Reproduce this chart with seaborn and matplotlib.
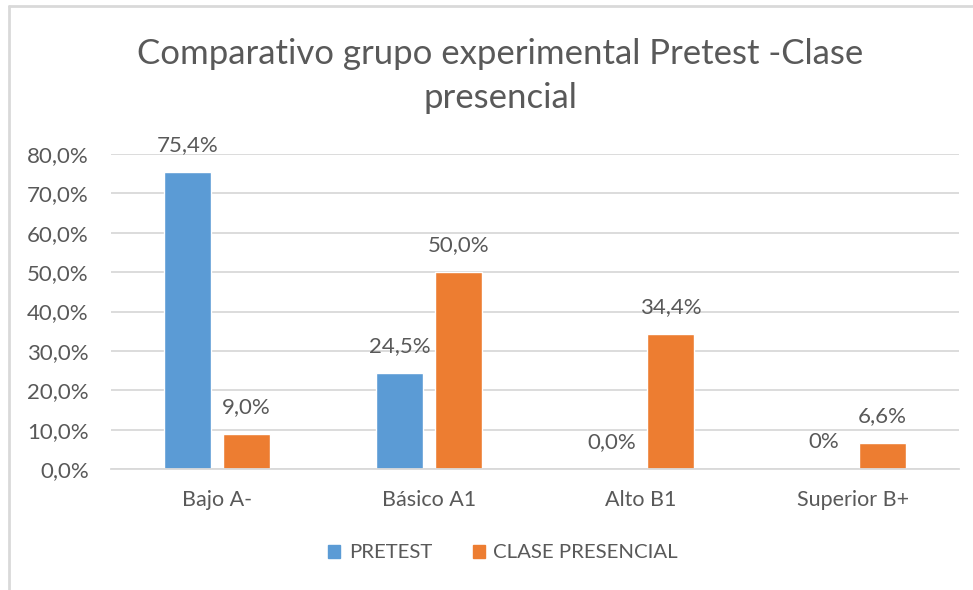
import pandas as pd
import seaborn as sns
import matplotlib.pyplot as plt
from matplotlib.lines import Line2D
from matplotlib.ticker import FuncFormatter

# datos
niveles = ['Bajo A-', 'Básico A1', 'Alto B1', 'Superior B+']
series = ['PRETEST', 'CLASE PRESENCIAL']
pretest = [0.754, 0.245, 0.0, 0.0]
presencial = [0.090, 0.500, 0.344, 0.066]
etiquetas_pretest = ['75,4%', '24,5%', '0,0%', '0%']
etiquetas_presencial = ['9,0%', '50,0%', '34,4%', '6,6%']
titulo = 'Comparativo grupo experimental Pretest -Clase\npresencial'

colores = ['#5B9BD5', '#ED7D31']
gris = '#595959'

df = pd.DataFrame({
    'nivel': niveles * 2,
    'serie': [series[0]] * 4 + [series[1]] * 4,
    'valor': pretest + presencial,
})

sns.set_theme(style='white')
plt.rcParams['font.family'] = ['Lato', 'DejaVu Sans']

fig = plt.figure(figsize=(9.73, 5.9), dpi=100)
ax = fig.add_axes([111 / 973, 1 - 469 / 590, (959 - 111) / 973, (469 - 154) / 590])

sns.barplot(data=df, x='nivel', y='valor', hue='serie', order=niveles, hue_order=series,
            palette=colores, width=0.56, gap=0.21, saturation=1, ax=ax, legend=False)

for cont, labs in zip(ax.containers, [etiquetas_pretest, etiquetas_presencial]):
    ax.bar_label(cont, labels=labs, padding=12, fontsize=16, color=gris, clip_on=False)

ax.set_ylim(0, 0.8)
ax.set_xlim(-0.5, 3.5)
ax.set_yticks([i / 10 for i in range(9)])
ax.yaxis.set_major_formatter(FuncFormatter(lambda v, p: ('%.1f%%' % (v * 100)).replace('.', ',')))
ax.grid(axis='y', color='#D9D9D9', linewidth=1.3)
ax.set_axisbelow(True)
for s in ['top', 'right', 'left']:
    ax.spines[s].set_visible(False)
ax.spines['bottom'].set_color('#D9D9D9')
ax.spines['bottom'].set_linewidth(1.3)
ax.tick_params(axis='y', length=0, pad=16, labelsize=16, labelcolor=gris)
ax.tick_params(axis='x', length=0, pad=15, labelsize=15.5, labelcolor=gris)
ax.set_xlabel('')
ax.set_ylabel('')

fig.text(500 / 973, 1 - 76 / 590, titulo, ha='center', va='center', fontsize=25,
         color=gris, linespacing=1.45)

handles = [plt.Rectangle((0, 0), 1, 1, color=c) for c in colores]
fig.legend(handles, series, loc='center', bbox_to_anchor=(503 / 973, 1 - 553 / 590), ncol=2,
           frameon=False, fontsize=14.7, labelcolor=gris, handlelength=0.6, handleheight=0.6,
           handletextpad=0.4, columnspacing=2.0)

# marco del area del grafico
fig.add_artist(Line2D([9 / 973, 9 / 973], [0, 1 - 6 / 590], color='#D9D9D9', linewidth=2))
fig.add_artist(Line2D([9 / 973, 1], [1 - 6 / 590, 1 - 6 / 590], color='#D9D9D9', linewidth=2))

fig.savefig('out.png', dpi=100)
